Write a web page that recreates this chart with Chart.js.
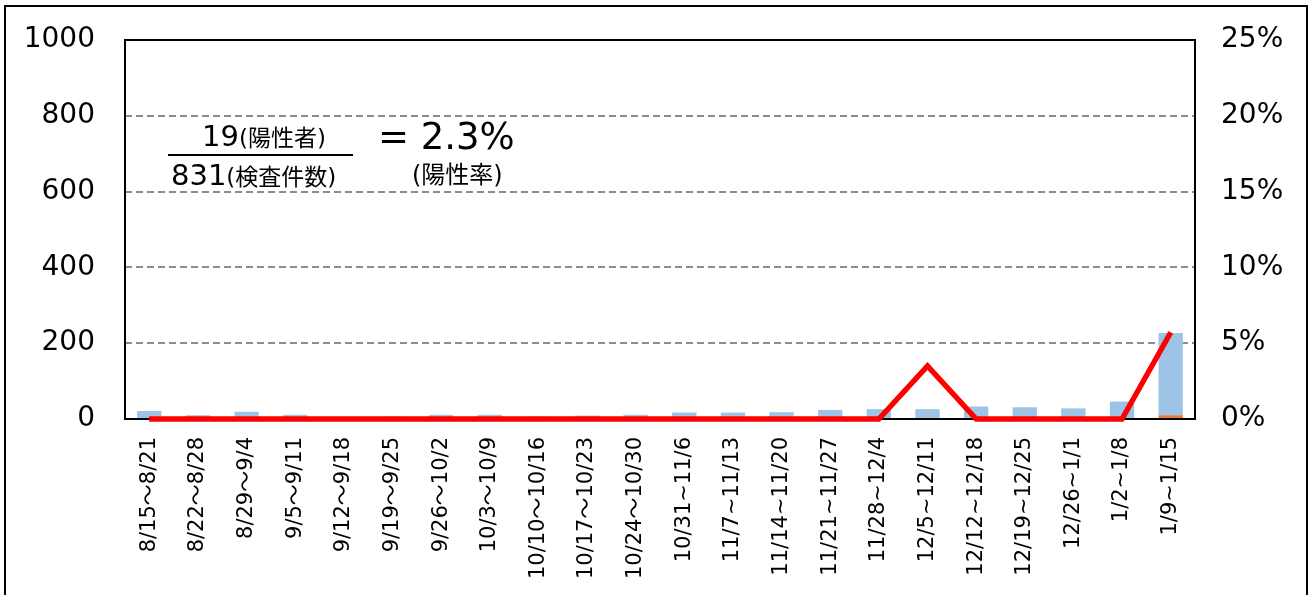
<!DOCTYPE html>
<html lang="ja">
<head>
<meta charset="utf-8">
<script src="https://cdn.jsdelivr.net/npm/chart.js@4"></script>
<style>
  html, body { margin: 0; padding: 0; background: #fff; overflow: hidden; }
  body { width: 1314px; height: 595px; position: relative; font-family: 'DejaVu Sans', 'Noto Sans CJK JP', sans-serif; }
  .frame { position: absolute; left: 4px; top: 5px; width: 1300px; height: 600px; border: 2px solid #000; }
  .frame canvas { position: absolute; left: 0; top: 0; }
  .note { position: absolute; color: #000; white-space: nowrap; line-height: 1; }
  .big { font-size: 29px; }
  .small { font-size: 23px; }
  .rule { position: absolute; left: 168px; top: 154px; width: 185px; height: 2px; background: #000; }
</style>
</head>
<body>
<div class="frame">
  <canvas id="chart" width="1300" height="590"></canvas>
</div>
<div class="note" style="left:202px; top:122px;"><span class="big">19</span><span class="small">(陽性者)</span></div>
<div class="rule"></div>
<div class="note" style="left:171px; top:161px;"><span class="big">831</span><span class="small">(検査件数)</span></div>
<div class="note" style="left:378px; top:118px; font-size:37px;">= 2.3%</div>
<div class="note" style="left:412px; top:163px; font-size:24px;">(陽性率)</div>
<script>
// weekly periods
const weeks = [
  '8/15〜8/21', '8/22〜8/28', '8/29〜9/4', '9/5〜9/11', '9/12〜9/18',
  '9/19〜9/25', '9/26〜10/2', '10/3〜10/9', '10/10〜10/16', '10/17〜10/23',
  '10/24〜10/30', '10/31~11/6', '11/7~11/13', '11/14~11/20', '11/21~11/27',
  '11/28~12/4', '12/5~12/11', '12/12~12/18', '12/19~12/25', '12/26~1/1',
  '1/2~1/8', '1/9~1/15',
];

// negative tests (blue)
const negatives = [21, 10, 19, 11, 1, 6, 11, 11, 6, 9, 11, 17, 17, 18, 24, 26, 25, 33, 31, 28, 46, 217];

// positive tests (orange)
const positives = [0, 0, 0, 0, 0, 0, 0, 0, 0, 0, 0, 0, 0, 0, 0, 0, 1, 0, 0, 0, 0, 10];

// positivity rate, % (red line)
const rates = [0, 0, 0, 0, 0, 0, 0, 0, 0, 0, 0, 0, 0, 0, 0, 0, 3.5, 0, 0, 0, 0, 5.7];

const countTicks = [0, 200, 400, 600, 800, 1000];
const rateTicks = [0, 5, 10, 15, 20, 25];

const FONT = "'DejaVu Sans', 'Noto Sans CJK JP', sans-serif";

const plotFrame = {
  id: 'plotFrame',
  afterDatasetsDraw(chart) {
    const { ctx, chartArea: a } = chart;
    ctx.save();
    ctx.strokeStyle = '#000';
    ctx.lineWidth = 2;
    ctx.strokeRect(a.left, a.top, a.right - a.left, a.bottom - a.top);
    ctx.restore();
  },
};

// keep the red line above the frame
const lineOnTop = {
  id: 'lineOnTop',
  afterDatasetsDraw(chart) {
    chart.getDatasetMeta(0).controller.draw();
  },
};

// fixed axis sizes so the plot area lands where the original has it
const fixSide = (w) => (scale) => {
  scale.width = w;
  scale.paddingTop = 0;
  scale.paddingBottom = 0;
};

const ctx = document.getElementById('chart');

const myChart = new Chart(ctx, {
  type: 'bar',
  data: {
    labels: weeks,
    datasets: [
      {
        type: 'line',
        label: '陽性率',
        data: rates,
        yAxisID: 'y1',
        borderColor: '#ff0000',
        borderWidth: 5,
        pointRadius: 0,
        tension: 0,
        clip: false,
        order: 0,
      },
      {
        label: '陽性者',
        data: positives,
        backgroundColor: '#ed7d31',
        yAxisID: 'y',
        stack: 's',
        order: 1,
        barPercentage: 0.5,
        categoryPercentage: 1,
      },
      {
        label: '陰性者',
        data: negatives,
        backgroundColor: '#9dc3e6',
        yAxisID: 'y',
        stack: 's',
        order: 2,
        barPercentage: 0.5,
        categoryPercentage: 1,
      },
    ],
  },
  options: {
    responsive: false,
    animation: false,
    layout: { padding: { top: 33, left: 0, right: 0, bottom: 0 } },
    plugins: {
      legend: { display: false },
      tooltip: { enabled: false },
    },
    scales: {
      x: {
        stacked: true,
        grid: { display: false, drawTicks: false },
        border: { display: false },
        ticks: {
          minRotation: 90,
          maxRotation: 90,
          autoSkip: false,
          padding: 18,
          color: '#000',
          font: { family: FONT, size: 21 },
        },
        afterFit(scale) { scale.height = 178; },
      },
      y: {
        stacked: true,
        position: 'left',
        min: 0,
        max: 1000,
        afterBuildTicks(scale) { scale.ticks = countTicks.map((v) => ({ value: v })); },
        grid: { color: '#8c8c8c', lineWidth: 2, drawTicks: false },
        border: { display: false, dash: [7, 4] },
        ticks: {
          padding: 30,
          color: '#000',
          font: { family: FONT, size: 28 },
          callback: (v) => String(v),
        },
        afterFit: fixSide(119),
      },
      y1: {
        position: 'right',
        min: 0,
        max: 25,
        afterBuildTicks(scale) { scale.ticks = rateTicks.map((v) => ({ value: v })); },
        grid: { display: false, drawTicks: false },
        border: { display: false },
        ticks: {
          padding: 26,
          color: '#000',
          font: { family: FONT, size: 28 },
          callback: (v) => `${v}%`,
        },
        afterFit: fixSide(111),
      },
    },
  },
  plugins: [plotFrame, lineOnTop],
});
</script>
</body>
</html>
